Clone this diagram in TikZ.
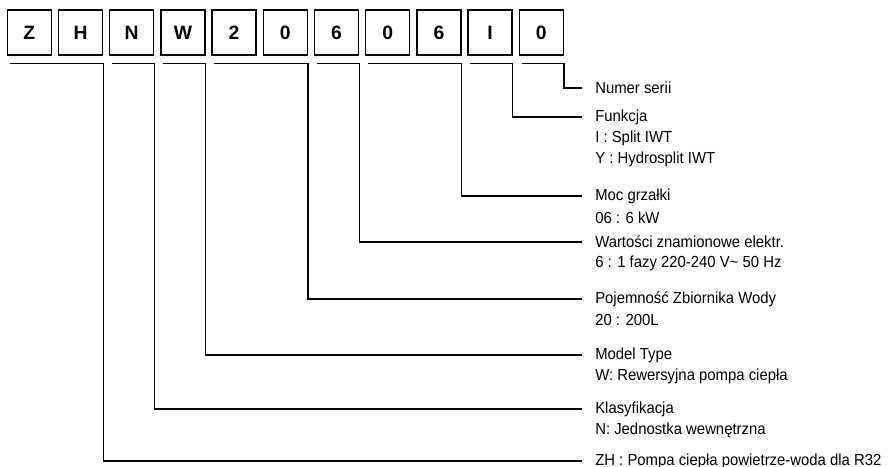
\documentclass[tikz,border=0pt]{standalone}
\usepackage{fontspec}
\setmainfont{Liberation Sans}
\newfontfamily\lblfont[FakeStretch=0.93]{Liberation Sans}
\usetikzlibrary{calc}
\begin{document}
\begin{tikzpicture}[x=0.75pt,y=-0.75pt,
  digit/.style={draw,line width=1pt,minimum width=33pt,minimum height=33.75pt,inner sep=0pt,font=\fontsize{14.5}{17}\selectfont\bfseries},
  lbl/.style={anchor=west,inner xsep=9.75pt,inner ysep=0pt,font=\lblfont\fontsize{12}{14}\selectfont},
  conn/.style={line width=1pt}]
\useasboundingbox (0,0) rectangle (889,467);
\foreach \t [count=\i] in {Z,H,N,W,2,0,6,0,6,I,0}
  \node[digit] (b\i) at ({29.3+51.2*(\i-1)},32.5) {\t};
% labels
\node[lbl] (lNum) at (582,88) {Numer serii};
\node[lbl] (lFun) at (582,117) {Funkcja};
\node[lbl] (lFunA) at (582,138) {I : Split IWT};
\node[lbl] (lFunB) at (582,159) {Y : Hydrosplit IWT};
\node[lbl] (lMoc) at (582,196) {Moc grzałki};
\node[lbl] (lMocA) at (582,218) {06 : 6 kW};
\node[lbl] (lWar) at (582,242) {Wartości znamionowe elektr.};
\node[lbl] (lWarA) at (582,263) {6 : 1 fazy 220-240 V\textasciitilde{} 50 Hz};
\node[lbl] (lPoj) at (582,299) {Pojemność Zbiornika Wody};
\node[lbl] (lPojA) at (582,320) {20 : 200L};
\node[lbl] (lMod) at (582,355) {Model Type};
\node[lbl] (lModA) at (582,376) {W: Rewersyjna pompa ciepła};
\node[lbl] (lKla) at (582,409) {Klasyfikacja};
\node[lbl] (lKlaA) at (582,430) {N: Jednostka wewnętrzna};
\node[lbl] (lZH) at (582,461) {ZH : Pompa ciepła powietrze-woda dla R32};
% connectors
\draw[conn] ($(b11.south west)+(3,8)$) -- ($(b11.south east)+(0,8)$) |- (lNum.west);
\draw[conn] ($(b10.south west)+(3,8)$) -- ($(b10.south east)+(0,8)$) |- (lFun.west);
\draw[conn] ($(b8.south west)+(3,8)$) -- ($(b9.south east)+(0,8)$) |- (lMoc.west);
\draw[conn] ($(b7.south west)+(3,8)$) -- ($(b7.south east)+(0,8)$) |- (lWar.west);
\draw[conn] ($(b5.south west)+(3,8)$) -- ($(b6.south east)+(0,8)$) |- (lPoj.west);
\draw[conn] ($(b4.south west)+(3,8)$) -- ($(b4.south east)+(0,8)$) |- (lMod.west);
\draw[conn] ($(b3.south west)+(3,8)$) -- ($(b3.south east)+(0,8)$) |- (lKla.west);
\draw[conn] ($(b1.south west)+(3,8)$) -- ($(b2.south east)+(0,8)$) |- (lZH.west);
\end{tikzpicture}
\end{document}
